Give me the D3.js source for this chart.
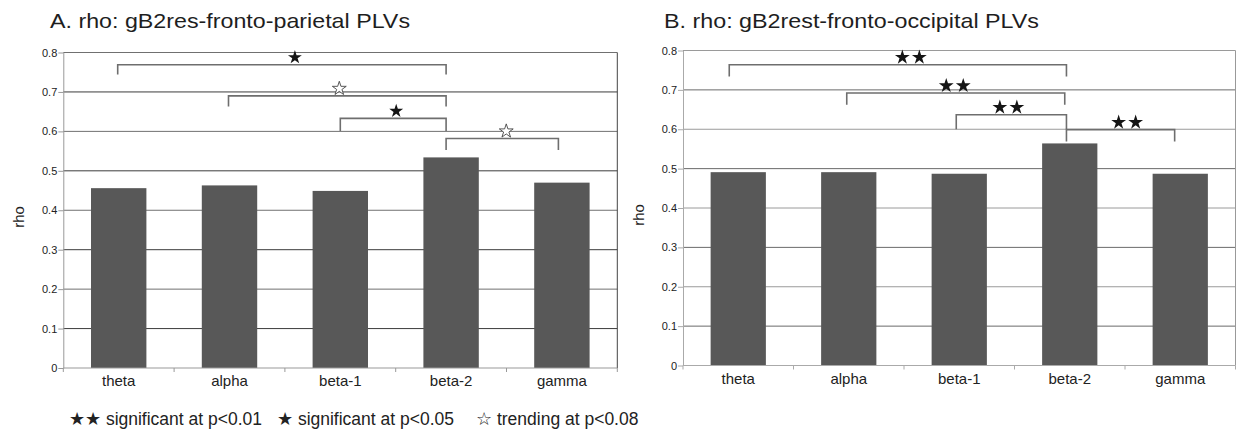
<!DOCTYPE html>
<html lang="en">
<head>
<meta charset="UTF-8">
<title>rho PLVs</title>
<style>
  body { margin: 0; background: #fff; }
  svg { display: block; font-family: "Liberation Sans", Arial, sans-serif; }
</style>
</head>
<body>
<script src="https://d3js.org/d3.v7.min.js"></script>
<script>
// data
var bands = ['theta', 'alpha', 'beta-1', 'beta-2', 'gamma'];
var rhoParietal = [0.456, 0.463, 0.449, 0.534, 0.470];
var rhoOccipital = [0.491, 0.491, 0.487, 0.564, 0.487];
var rhoTicks = [0, 0.1, 0.2, 0.3, 0.4, 0.5, 0.6, 0.7, 0.8];
var rhoTickLabels = ['0', '0.1', '0.2', '0.3', '0.4', '0.5', '0.6', '0.7', '0.8'];

// significance brackets: two bands, rho level of the bar and of its feet, marker
var bracketsParietal = [
  { from: 'theta', to: 'beta-2', top: 0.769, foot: 0.744, mark: 'filled' },
  { from: 'alpha', to: 'beta-2', top: 0.690, foot: 0.663, mark: 'open' },
  { from: 'beta-1', to: 'beta-2', top: 0.633, foot: 0.601, mark: 'filled' },
  { from: 'beta-2', to: 'gamma', top: 0.582, foot: 0.553, mark: 'open' }
];
var bracketsOccipital = [
  { from: 'theta', to: 'beta-2', top: 0.764, foot: 0.734, mark: 'double' },
  { from: 'alpha', to: 'beta-2', top: 0.692, foot: 0.662, mark: 'double' },
  { from: 'beta-1', to: 'beta-2', top: 0.637, foot: 0.600, mark: 'double' },
  { from: 'beta-2', to: 'gamma', top: 0.599, foot: 0.569, mark: 'double' }
];

var legendMarks = ['★★', '★', '☆'];
var legendLabels = ['significant at p<0.01', 'significant at p<0.05', 'trending at p<0.08'];

var width = 1236;
var height = 435;
var svg = d3.select('body').append('svg').attr('width', width).attr('height', height);

function drawPanel(p) {
    var g = svg.append('g');

    var x = d3.scaleBand().domain(bands).range([p.left, p.right]).paddingInner(0.5).paddingOuter(0.25);
    var y = d3.scaleLinear().domain([0, 0.8]).range([p.bottom, p.top]);
    var star = d3.symbol().type(d3.symbolStar).size(p.starSize);

    // title
    g.append('text')
        .attr('x', p.titleX).attr('y', 28)
        .attr('font-size', 21).attr('fill', '#1e1e1e')
        .attr('textLength', p.titleWidth).attr('lengthAdjust', 'spacingAndGlyphs')
        .text(p.title);

    // horizontal grid
    g.selectAll('line.grid').data(rhoTicks.slice(1)).enter().append('line')
        .attr('class', 'grid')
        .attr('x1', p.left).attr('x2', p.right)
        .attr('y1', function (d) { return y(d); })
        .attr('y2', function (d) { return y(d); })
        .attr('stroke', function (d, i) { return p.gridColors[i % 2]; })
        .attr('stroke-width', 1);

    // right frame
    g.append('line')
        .attr('x1', p.right).attr('x2', p.right)
        .attr('y1', y(0.8)).attr('y2', y(0))
        .attr('stroke', p.frameColor);

    // bars
    g.selectAll('rect').data(p.values).enter().append('rect')
        .attr('x', function (d, i) { return x(bands[i]); })
        .attr('y', function (d) { return y(d); })
        .attr('width', x.bandwidth())
        .attr('height', function (d) { return y(0) - y(d); })
        .attr('fill', '#585858');

    // y axis
    var yAxis = d3.axisLeft(y).tickValues(rhoTicks)
        .tickFormat(function (d, i) { return rhoTickLabels[i]; })
        .tickSizeInner(5).tickSizeOuter(0).tickPadding(1);
    var ya = g.append('g').attr('transform', 'translate(' + p.left + ',0)').call(yAxis)
        .attr('font-size', 11).attr('font-family', null);
    ya.select('.domain').attr('stroke', p.axisColor);
    ya.selectAll('.tick line').attr('stroke', p.axisColor);
    ya.selectAll('.tick text').attr('fill', '#222');

    // x axis line + category separators
    g.append('line')
        .attr('x1', p.left).attr('x2', p.right)
        .attr('y1', y(0)).attr('y2', y(0))
        .attr('stroke', p.axisColor);
    var gap = (x.step() - x.bandwidth()) / 2;
    var edges = bands.map(function (b) { return x(b) - gap; }).concat([p.right]);
    g.selectAll('line.sep').data(edges).enter().append('line')
        .attr('class', 'sep')
        .attr('x1', function (d) { return d; }).attr('x2', function (d) { return d; })
        .attr('y1', y(0)).attr('y2', y(0) + 4)
        .attr('stroke', p.axisColor);

    var xAxis = d3.axisBottom(x).tickSize(0).tickPadding(7.5);
    var xa = g.append('g').attr('transform', 'translate(0,' + y(0) + ')').call(xAxis)
        .attr('font-size', 15).attr('font-family', null);
    xa.select('.domain').remove();
    xa.selectAll('.tick text').attr('fill', '#222');

    // y title
    g.append('text')
        .attr('transform', 'translate(' + p.rhoX + ',' + p.rhoY + ') rotate(-90)')
        .attr('text-anchor', 'middle')
        .attr('font-size', 15).attr('fill', '#222')
        .text('rho');

    // significance brackets (small pixel nudges copy the hand placement of the original)
    p.brackets.forEach(function (b, k) {
        var n = p.nudges[k];
        var x1 = x(b.from) + x.bandwidth() / 2 + n[0];
        var x2 = x(b.to) + x.bandwidth() / 2 + n[1];
        var yt = y(b.top), yf = y(b.foot);
        g.append('path')
            .attr('d', 'M' + x1 + ',' + yf + 'V' + yt + 'H' + x2 + 'V' + yf)
            .attr('fill', 'none').attr('stroke', '#6e6e6e').attr('stroke-width', 1.6);

        var cx = (x1 + x2) / 2 + n[2];
        var cy = yt - 7.3;
        var offs = b.mark === 'double' ? [-8.5, 8.5] : [0];
        offs.forEach(function (o) {
            g.append('path')
                .attr('d', star())
                .attr('transform', 'translate(' + (cx + o) + ',' + cy + ')')
                .attr('fill', b.mark === 'open' ? '#fff' : '#151515')
                .attr('stroke', b.mark === 'open' ? '#444' : 'none')
                .attr('stroke-width', 0.9);
        });
    });
}

drawPanel({
    title: 'A. rho: gB2res-fronto-parietal PLVs', titleX: 50, titleWidth: 360,
    values: rhoParietal, brackets: bracketsParietal,
    nudges: [[-1, -5, 13], [-1, -5, 2], [0, -5, 3], [-5, -3.5, 4]],
    starSize: 60,
    left: 63.3, right: 617.3, top: 52.5, bottom: 368,
    gridColors: ['#3c3c3c', '#707070'], axisColor: '#999', frameColor: '#444',
    rhoX: 24, rhoY: 217
});

drawPanel({
    title: 'B. rho: gB2rest-fronto-occipital PLVs', titleX: 664, titleWidth: 375,
    values: rhoOccipital, brackets: bracketsOccipital,
    nudges: [[-9, -3.3, 13], [-2, -5, -1], [-3, -3.3, -3], [-3.3, -5.6, 6.6]],
    starSize: 68,
    left: 683, right: 1235.5, top: 50.5, bottom: 365.5,
    gridColors: ['#6a6a6a', '#9a9a9a'], axisColor: '#aaa', frameColor: '#999',
    rhoX: 644, rhoY: 215
});

// legend
var legendX = [69, 277, 476];
legendLabels.forEach(function (label, i) {
    var t = svg.append('text')
        .attr('x', legendX[i]).attr('y', 425)
        .attr('font-size', 17.5).attr('fill', '#222');
    t.append('tspan').text(legendMarks[i] + ' ');
    t.append('tspan').text(label);
});
</script>
</body>
</html>
